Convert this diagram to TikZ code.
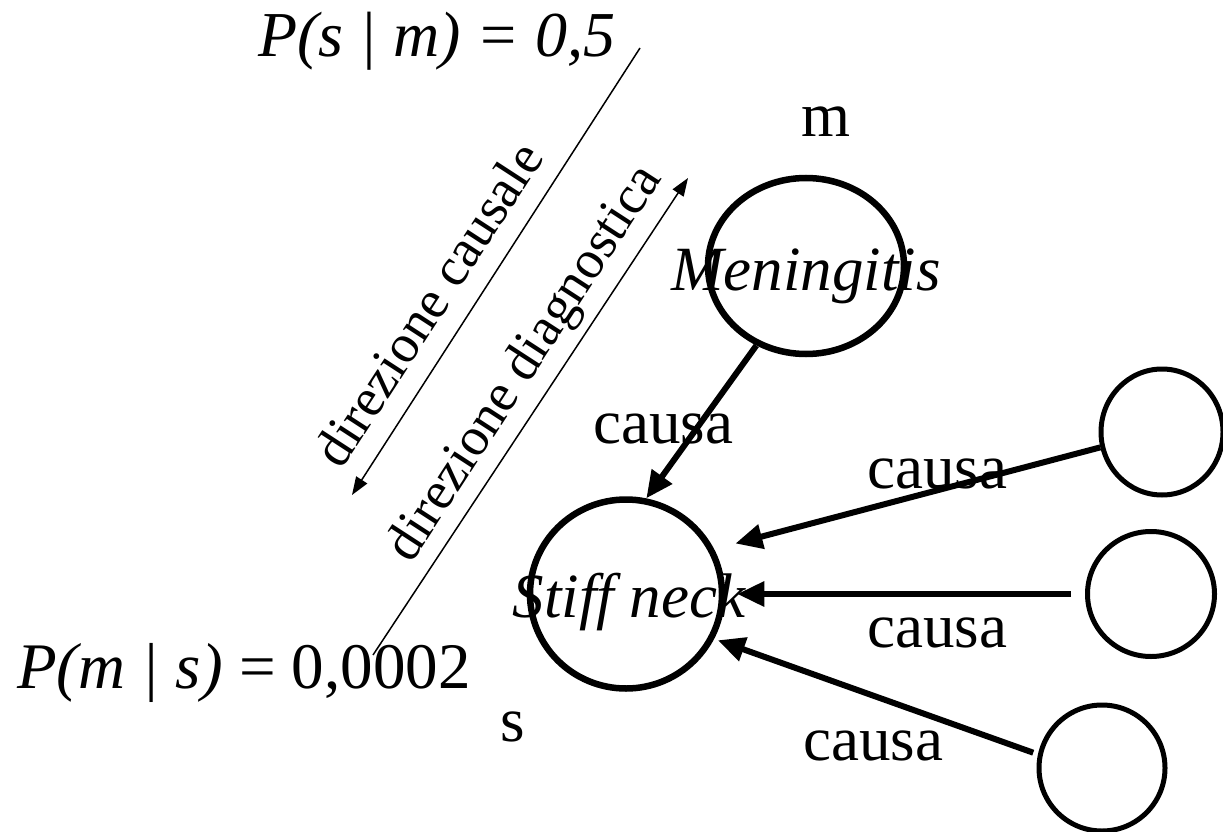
\documentclass[tikz,border=0pt]{standalone}
\usepackage{fontspec}
\setmainfont{Liberation Serif}
\usetikzlibrary{arrows.meta,shapes.geometric}
\begin{document}
\begin{tikzpicture}[x=1pt,y=-1pt,
  lbl/.style={font=\fontsize{63}{70}\selectfont, inner sep=0pt, anchor=base},
  itlbl/.style={font=\fontsize{63}{70}\selectfont\itshape, inner sep=0pt, anchor=base},
  prob/.style={font=\fontsize{64}{72}\selectfont, inner sep=0pt, anchor=base west},
  dirtext/.style={font=\fontsize{54}{60}\selectfont, inner sep=0pt, rotate=57},
  bignode/.style={ellipse, draw, line width=6.5pt, inner sep=0pt},
  smallnode/.style={ellipse, draw, line width=5pt, inner sep=0pt, minimum width=126pt, minimum height=126pt},
  causearrow/.style={line width=6pt, -{Triangle[length=27pt,width=24pt]}},
  thinarrow/.style={line width=1.5pt, -{Triangle[length=18pt,width=13pt]}}
]
\useasboundingbox (0,0) rectangle (1223,832);

% probability formulas
\node[prob] (psm) at (258,57) {\itshape P(s | m) = 0,5};
\node[prob, font=\fontsize{65}{72}\selectfont] (pms) at (17,688) {\textit{P(m | s)} = 0,0002};

% direction arrows
\coordinate (cA) at (640,48);
\coordinate (cB) at (352,495);
\coordinate (dA) at (373,655);
\coordinate (dB) at (688,178);
\draw[thinarrow] (cA) -- (cB);
\draw[thinarrow] (dA) -- (dB);
\node[dirtext] (dc) at (428,304) {direzione causale};
\node[dirtext] (dd) at (526,364) {direzione diagnostica};

% main nodes
\node[bignode, minimum width=196pt, minimum height=176pt] (men) at (806,266) {};
\node[itlbl] (mentext) at (806,290) {Meningitis};
\node[lbl] (mlabel) at (826,137) {m};

\node[bignode, minimum width=192pt, minimum height=189pt] (stiff) at (626,594) {};
\node[itlbl] (stifftext) at (629,617) {Stiff neck};
\node[lbl] (slabel) at (513,741) {s};

% cause nodes
\node[smallnode, minimum width=122pt] (c1) at (1162,432) {};
\node[smallnode, minimum width=127pt, minimum height=125pt] (c2) at (1151,594) {};
\node[smallnode] (c3) at (1102,768) {};

% causal arrows
\draw[causearrow] (men.238) -- (stiff.78);
\draw[causearrow, shorten >=22pt] (c1.194) -- (stiff.27);
\draw[causearrow, shorten <=14pt, shorten >=12pt] (c2.west) -- (stiff.east);
\draw[causearrow, shorten <=5pt, shorten >=4pt] (c3.168) -- (stiff.-27);

% labels
\node[lbl] (k1) at (663,443) {causa};
\node[lbl] (k2) at (937,488) {causa};
\node[lbl] (k3) at (937,647) {causa};
\node[lbl] (k4) at (873,760) {causa};
\end{tikzpicture}
\end{document}
